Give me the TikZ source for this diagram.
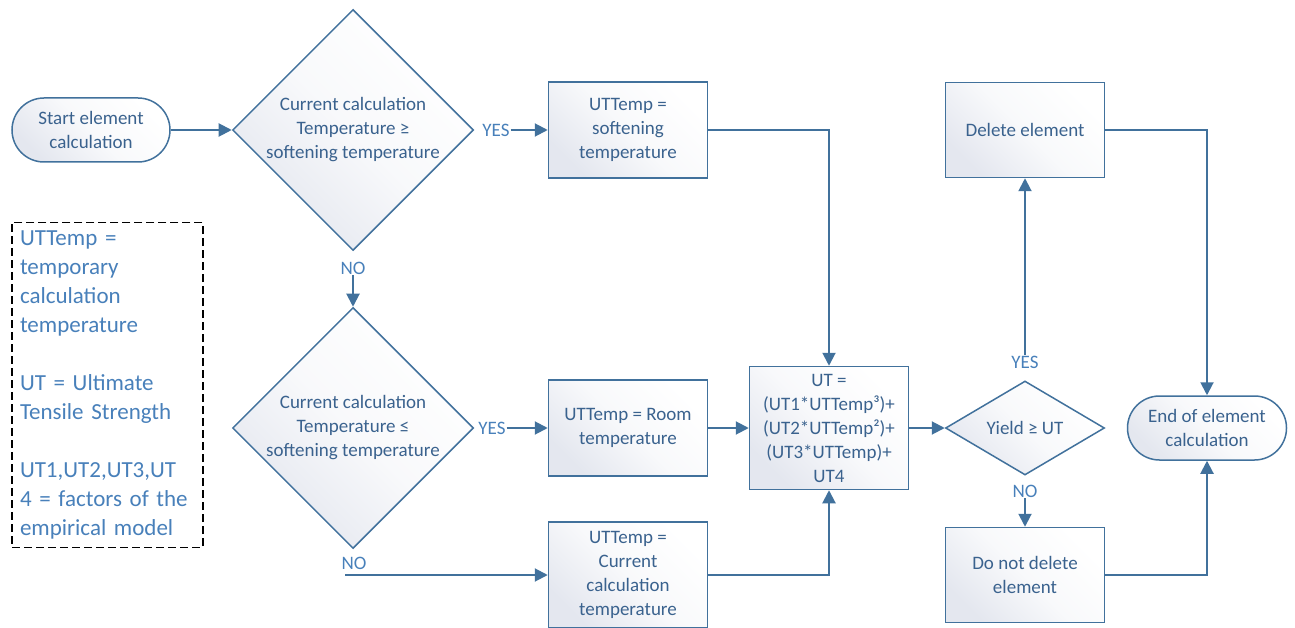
\documentclass[tikz,border=0pt]{standalone}
\usepackage{fontspec}
\setmainfont{Carlito}
\usepackage{tikz}
\usetikzlibrary{shapes.geometric,arrows.meta}
\definecolor{edge}{RGB}{65,113,156}
\definecolor{ink}{RGB}{58,98,142}
\definecolor{lbl}{RGB}{72,128,186}
\definecolor{tint}{RGB}{228,231,239}
\begin{document}
\begin{tikzpicture}[x=1pt,y=-1pt]
\tikzstyle{every node}+=[font=\fontsize{19}{24}\selectfont, text=ink, align=center]
\tikzstyle{fill}=[top color=tint, bottom color=white, middle color=white!75!tint, shading angle=135]
\tikzstyle{process}=[rectangle, draw=edge, line width=1.5pt, fill, minimum width=159pt, minimum height=96pt, inner sep=2pt]
\tikzstyle{terminal}=[rectangle, rounded corners=32pt, draw=edge, line width=1.5pt, fill, minimum width=158pt, minimum height=64pt]
\tikzstyle{decision}=[diamond, draw=edge, line width=1.5pt, fill, inner sep=0pt]
\tikzstyle{answer}=[text=lbl, inner sep=1pt]
\tikzstyle{flow}=[draw=edge, line width=2pt, -{Triangle[length=13pt,width=13pt]}]
\useasboundingbox (0,0) rectangle (1295,628);
\node [terminal] (start) at (91,130) {Start element\\calculation};
\node [decision, minimum width=241pt, minimum height=241pt] (d1) at (353,130) {};
\node at (d1) {Current calculation\\Temperature ≥\\softening temperature};
\node [answer] (yes1) at (496,130) {YES};
\node [answer] (no1) at (353,268) {NO};
\node [process] (soft) at (628,130) {UTTemp =\\softening\\temperature};
\node [decision, minimum width=241pt, minimum height=241pt] (d2) at (353,428) {};
\node at (d2) {Current calculation\\Temperature ≤\\softening temperature};
\node [answer] (yes2) at (492,428) {YES};
\node [answer] (no2) at (354,563) {NO};
\coordinate (no2end) at (345,575);
\node [process] (room) at (628,428) {UTTemp = Room\\temperature};
\node [process, minimum height=106pt] (cur) at (628,575) {UTTemp =\\Current\\calculation\\temperature};
\node [process, minimum height=123pt] (ut) at (829,428) {UT =\\(UT1*UTTemp³)+\\(UT2*UTTemp²)+\\(UT3*UTTemp)+\\UT4};
\node [decision, minimum width=159pt, minimum height=94pt] (d3) at (1025,428) {};
\node at (d3) {Yield ≥ UT};
\node [answer] (yes3) at (1025,362) {YES};
\node [answer] (no3) at (1025,491) {NO};
\node [process, minimum height=95pt] (del) at (1025,130) {Delete element};
\node [process, minimum height=95pt] (keep) at (1025,575) {Do not delete\\element};
\node [terminal, minimum width=159pt] (end) at (1207,428) {End of element\\calculation};
\node [draw=black, line width=1.2pt, dash pattern=on 8pt off 4pt, minimum width=191pt, minimum height=320pt, text width=175pt, align=left, inner sep=8pt, text=lbl, font=\fontsize{23}{29}\selectfont] (key) at (107.5,385) {UTTemp =\\temporary\\calculation\\temperature\\[29pt]UT = Ultimate\\Tensile Strength\\[29pt]UT1,UT2,UT3,UT\\4 = factors of the\\empirical model};
\draw [flow] (start) -- (d1);
\draw [flow] (yes1) -- (soft);
\draw [flow] (no1) -- (d2);
\draw [flow] (yes2) -- (room);
\draw [flow] (no2end) -- (cur);
\draw [flow] (soft) -| (ut);
\draw [flow] (room) -- (ut);
\draw [flow] (cur) -| (ut);
\draw [flow] (ut) -- (d3);
\draw [flow] (yes3) -- (del);
\draw [flow] (no3) -- (keep);
\draw [flow] (del) -| (end);
\draw [flow] (keep) -| (end);
\end{tikzpicture}
\end{document}
